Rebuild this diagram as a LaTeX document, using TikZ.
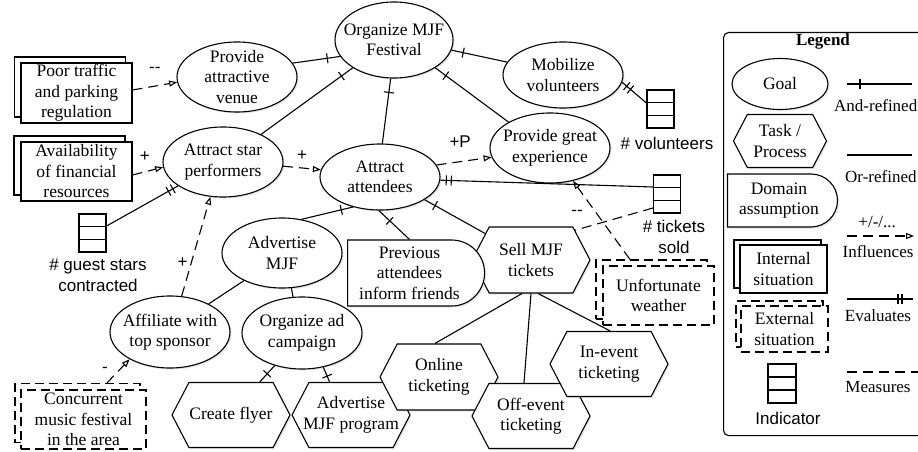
\documentclass[tikz,border=0pt]{standalone}
\usepackage{fontspec}
\setmainfont{Liberation Serif}
\setsansfont{Liberation Sans}
\usetikzlibrary{shapes.geometric,shapes.symbols,shapes.misc,arrows.meta,decorations.markings,shadows,calc}
\begin{document}
\begin{tikzpicture}[x=1pt,y=-1pt,
  every node/.style={font=\fontsize{17.5}{20.5}\selectfont},
  lw/.style={line width=1.1pt},
  shd/.style={drop shadow={opacity=0.2,shadow xshift=1.5pt,shadow yshift=-1.5pt}},
  goal/.style={ellipse, draw, lw, fill=white, align=center, inner sep=-15pt, shd},
  task/.style={signal, signal to=east and west, signal pointer angle=125, draw, lw, fill=white, align=center, inner xsep=-10pt, inner ysep=0pt, shd},
  dom/.style={rounded rectangle, rounded rectangle left arc=none, draw, lw, fill=white, align=center, inner xsep=-6pt, inner ysep=0pt, shd},
  sit/.style={rectangle, draw, lw, fill=white, align=center, inner sep=0pt},
  ext/.style={sit, dash pattern=on 9pt off 5pt},
  ind/.style={rectangle, draw, lw, fill=white, minimum width=27pt, minimum height=38pt, inner sep=0pt,
    path picture={\draw[lw] ($(path picture bounding box.north west)!1/3!(path picture bounding box.south west)$) -- ($(path picture bounding box.north east)!1/3!(path picture bounding box.south east)$)
      ($(path picture bounding box.north west)!2/3!(path picture bounding box.south west)$) -- ($(path picture bounding box.north east)!2/3!(path picture bounding box.south east)$);}},
  lbl/.style={font=\sffamily\fontsize{17}{20}\selectfont, inner sep=0pt, text height=11pt, text depth=0pt},
  itxt/.style={font=\sffamily\fontsize{17}{20.5}\selectfont, align=center, inner sep=0pt},
  ltxt/.style={font=\fontsize{17}{20}\selectfont, inner sep=0pt},
  con/.style={lw},
  tk/.style={postaction={decorate, decoration={markings, mark=at position #1 with {\draw[lw,solid] (0,-5pt) -- (0,5pt);}}}},
  andl/.style={con, tk=#1},
  andl/.default=-13pt,
  orl/.style={con},
  evl/.style={con, tk=-11pt, tk=-6pt},
  dsh/.style={dash pattern=on 10pt off 6pt},
  meas/.style={con, dsh},
  infl/.style={con, dsh, -{Triangle[open, length=8pt, width=6pt]}},
]
\useasboundingbox (0,0) rectangle (918,452);

% ---------- goals
\node[goal, minimum width=118pt, minimum height=76pt] (org) at (394,40) {Organize MJF\\Festival};
\node[goal, minimum width=120pt, minimum height=66pt] (mob) at (563,75) {Mobilize\\volunteers};
\node[goal, minimum width=120pt, minimum height=70pt] (great) at (550,148) {Provide great\\experience};
\node[goal, minimum width=120pt, minimum height=66pt] (att) at (380,177) {Attract\\attendees};
\node[goal, minimum width=120pt, minimum height=70pt] (venue) at (237,77) {Provide\\attractive\\venue};
\node[goal, minimum width=120pt, minimum height=70pt] (star) at (223,162) {Attract star\\performers};
\node[goal, minimum width=120pt, minimum height=70pt] (adv) at (282,253) {Advertise\\MJF};
\node[goal, minimum width=120pt, minimum height=72pt] (aff) at (170,332) {Affiliate with\\top sponsor};
\node[goal, minimum width=120pt, minimum height=72pt] (camp) at (302,333) {Organize ad\\campaign};

% ---------- tasks
\node[task, minimum width=118pt, minimum height=66pt] (sell) at (531,260) {Sell MJF\\tickets};
\node[task, minimum width=118pt, minimum height=65pt] (flyer) at (231,415) {Create flyer};
\node[task, minimum width=118pt, minimum height=65pt] (advprog) at (351,415) {Advertise\\MJF program};
\node[task, minimum width=118pt, minimum height=66pt] (online) at (439,377) {Online\\ticketing};
\node[task, minimum width=118pt, minimum height=65pt] (off) at (531,416) {Off-event\\ticketing};
\node[task, minimum width=118pt, minimum height=65pt] (inev) at (609,364) {In-event\\ticketing};

% ---------- domain assumption
\node[dom, minimum width=125pt, minimum height=66pt] (prev) at (409.5,273) {Previous\\attendees\\inform friends};

% ---------- situations
\node[sit, minimum width=111pt, minimum height=60pt] (poorB) at (70,87) {};
\node[sit, minimum width=111pt, minimum height=60pt] (poor) at (76.5,93) {Poor traffic\\and parking\\regulation};
\node[sit, minimum width=111pt, minimum height=59pt] (availB) at (69.5,165.5) {};
\node[sit, minimum width=111pt, minimum height=59pt] (avail) at (76.5,171.5) {Availability\\of financial\\resources};
\node[ext, minimum width=125pt, minimum height=59pt] (concB) at (77.5,413) {};
\node[ext, minimum width=125pt, minimum height=59pt] (conc) at (83.5,419.5) {Concurrent\\music festival\\in the area};
\node[ext, minimum width=111pt, minimum height=59pt] (wB) at (651.5,289.5) {};
\node[ext, minimum width=111pt, minimum height=59pt] (weather) at (658.5,295.5) {Unfortunate\\weather};

% ---------- indicators
\node[ind] (vol) at (660.5,109) {};
\node[ind] (tix) at (667,194) {};
\node[ind] (guest) at (92.5,233) {};
\node[itxt] (volt) at (667,143) {\# volunteers};
\node[itxt] (tixt) at (674,237) {\# tickets\\sold};
\node[itxt] (guestt) at (98,275.5) {\# guest stars\\contracted};

% ---------- and-refinements
\draw[andl] (venue.14) -- (org.197);
\draw[andl=-14pt] (star.36) -- (org.214);
\draw[andl=-14pt] (att.86) -- (org.265);
\draw[andl] (great.148) -- (org.326);
\draw[andl=-12pt] (mob.167) -- (org.350);
\draw[andl=-12pt] (adv.60) -- (att.228);
\draw[andl=-15pt] (prev.north) -- (att.268);
\draw[andl=-12pt] (sell.150) -- (att.333);
\draw[andl=0.5] (flyer.49) -- (camp.230);
\draw[andl=0.4] (advprog.123) -- (camp.302);

% ---------- or-refinements
\draw[orl] (aff.36) -- (adv.216);
\draw[orl] (camp.104) -- (adv.285);
\draw[orl] (online.97) -- (sell.255);
\draw[orl] (off.102) -- (sell.270);
\draw[orl] (inev.88) -- (sell.282);

% ---------- evaluates / measures
\draw[evl] ([yshift=6pt]vol.west) -- (mob.353);
\draw[evl] ([yshift=7pt]tix.west) -- (att.357);
\draw[evl] ([yshift=7pt]guest.east) -- (star.208);
\draw[meas] ([yshift=-14pt]tix.west) -- (sell.34);

% ---------- influences
\draw[infl] ([yshift=3pt]poor.east) -- node[lbl, pos=0.5, yshift=19pt] {-{}-} (venue.185);
\draw[infl] ([yshift=-3.5pt]avail.east) -- node[lbl, pos=0.4, yshift=16pt] {+} (star.185);
\draw[infl] (star.356) -- node[lbl, pos=0.5, yshift=13pt] {+} (att.173);
\draw[infl] (att.12) -- node[lbl, pos=0.43, yshift=20pt] {+P} (great.189);
\draw[infl] (aff.72) -- node[lbl, pos=0.345, xshift=-9pt] {+} (star.250);
\draw[infl] ([xshift=29.5pt]concB.north) -- node[lbl, pos=0.66, xshift=-17pt] {-} (aff.214);
\draw[infl] ([xshift=-21.5pt]wB.north) -- node[lbl, pos=0.63, xshift=-17pt] {-{}-} (great.305);

% ---------- legend
\node[draw, lw, rounded corners=5pt, minimum width=222pt, minimum height=403pt, anchor=north west, inner sep=0pt] (legbox) at (723,32) {};
\node[font=\bfseries\fontsize{17}{20}\selectfont] (legt) at (823,41) {Legend};
\node[goal, minimum width=96pt, minimum height=51pt] (lgoal) at (780,84) {Goal};
\node[task, minimum width=93pt, minimum height=53pt] (ltask) at (780,141) {Task /\\Process};
\node[dom, minimum width=92pt, minimum height=53pt, inner xsep=-9pt] (ldom) at (779,200.5) {Domain\\assumption};
\node[sit, minimum width=87pt, minimum height=48pt] (lintB) at (777.5,264) {};
\node[sit, minimum width=87pt, minimum height=48pt] (lint) at (783.5,269) {Internal\\situation};
\node[ext, minimum width=87pt, minimum height=46pt] (lextB) at (779.5,324) {};
\node[ext, minimum width=87pt, minimum height=46pt] (lext) at (784.5,329) {External\\situation};
\node[ind, minimum width=28pt, minimum height=39pt] (lind) at (782,383.5) {};
\node[itxt] (lindt) at (788,418) {Indicator};

\coordinate (a1) at (847,84); \coordinate (a2) at (912,84);
\draw[andl=13pt] (a1) -- (a2);
\node[ltxt, anchor=west] (la) at (834,106) {And-refined};
\coordinate (o1) at (847,155); \coordinate (o2) at (912,155);
\draw[orl] (o1) -- (o2);
\node[ltxt, anchor=west] (lo) at (845,177) {Or-refined};
\coordinate (i1) at (847,236); \coordinate (i2) at (914,236);
\draw[infl] (i1) -- node[ltxt, text height=11pt, text depth=0pt, pos=0.45, yshift=14pt] {+/-/...} (i2);
\node[ltxt] (li) at (878,252) {Influences};
\coordinate (e1) at (847,299); \coordinate (e2) at (913,299);
\draw[con, tk=-15pt, tk=-11pt] (e1) -- (e2);
\node[ltxt] (le) at (878,316) {Evaluates};
\coordinate (m1) at (847,372); \coordinate (m2) at (918,372);
\draw[meas] (m1) -- (m2);
\node[ltxt] (lm) at (878,387) {Measures};
\end{tikzpicture}
\end{document}
